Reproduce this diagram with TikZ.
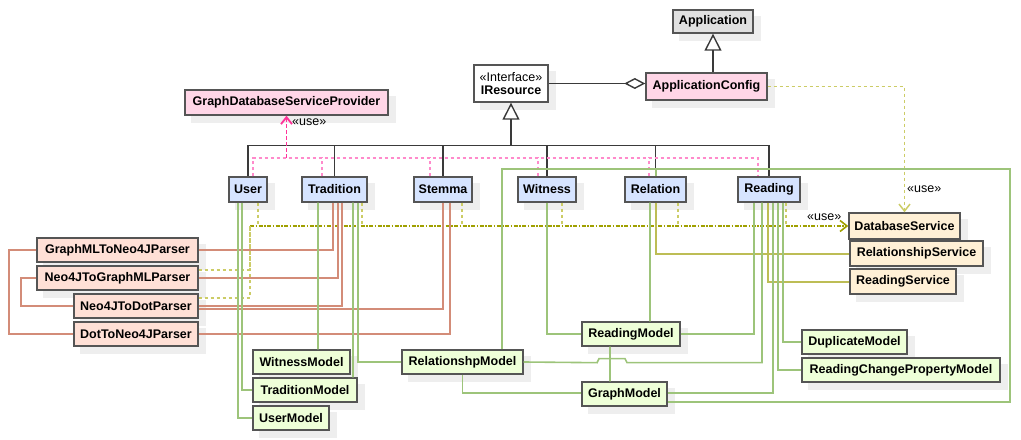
\documentclass[tikz,border=0pt]{standalone}
\usepackage{fontspec}
\setmainfont{Liberation Sans}
\usetikzlibrary{arrows.meta,backgrounds}
\definecolor{boxborder}{HTML}{555555}
\definecolor{cgray}{HTML}{E0E0E0}
\definecolor{cpink}{HTML}{FFD6E7}
\definecolor{cblue}{HTML}{D6E4FF}
\definecolor{ccream}{HTML}{FFF0D6}
\definecolor{cgreen}{HTML}{EEFFD8}
\definecolor{cpeach}{HTML}{FFE0D6}
\definecolor{lgreen}{HTML}{9DC47A}
\definecolor{lolive}{HTML}{BDBD55}
\definecolor{lred}{HTML}{D38C78}
\definecolor{lpink}{HTML}{FF8ACB}
\definecolor{dpink}{HTML}{FF3399}
\definecolor{useolive}{HTML}{A0A000}
\definecolor{usebranch}{HTML}{CCCC66}
\definecolor{genc}{HTML}{3A3A3A}
\definecolor{shadowc}{HTML}{EEEEEE}
\begin{document}
\begin{tikzpicture}[x=1bp,y=-1bp,
  cls/.style={draw=boxborder, line width=1.4bp, rectangle, inner sep=0bp,
    minimum height=24bp, font=\fontsize{12.5bp}{14bp}\selectfont\bfseries},
  res/.style={cls, fill=cblue, minimum height=25bp},
  svc/.style={cls, fill=ccream, minimum height=25bp},
  mdl/.style={cls, fill=cgreen},
  prs/.style={cls, fill=cpeach},
  lbl/.style={font=\fontsize{12.5bp}{14bp}\selectfont, inner sep=0bp},
  gen/.style={draw=genc, line width=1.4bp},
  gtip/.style={-{Triangle[length=17bp,width=17bp,fill=white]}},
  utip/.style={-{Straight Barb[length=7bp,width=11bp]}},
  pinkbr/.style={draw=lpink, line width=1.5bp, dash pattern=on 3bp off 3bp},
  pinkmain/.style={draw=dpink, line width=1.8bp, dash pattern=on 4bp off 2bp},
  usemain/.style={draw=useolive, line width=1.6bp, dash pattern=on 4bp off 1.5bp on 1.5bp off 1.5bp},
  usebr/.style={draw=usebranch, line width=1.5bp, dash pattern=on 3bp off 3bp},
  grn/.style={draw=lgreen, line width=1.6bp},
  olv/.style={draw=lolive, line width=1.7bp},
  redl/.style={draw=lred, line width=1.6bp}]
\useasboundingbox (0,0) rectangle (1021,440);

% ---------- nodes ----------
\node[cls, fill=cgray, minimum width=80bp, minimum height=23bp] (app) at (713,21.5) {Application};
\node[cls, fill=white, minimum width=74bp, minimum height=37bp, align=center] (ires) at (511,83.5) {{\mdseries «Interface»}\\[-1bp]IResource};
\node[cls, fill=cpink, minimum width=121bp, minimum height=27bp] (appcfg) at (706.5,86.5) {ApplicationConfig};
\node[cls, fill=cpink, minimum width=203bp, minimum height=25bp] (gdsp) at (286.5,102.5) {GraphDatabaseServiceProvider};

\node[res, minimum width=38bp] (user) at (248,189.5) {User};
\node[res, minimum width=65bp] (trad) at (334.5,189.5) {Tradition};
\node[res, minimum width=58bp] (stem) at (443,189.5) {Stemma};
\node[res, minimum width=58bp] (wit) at (547,189.5) {Witness};
\node[res, minimum width=61bp] (rel) at (655.5,189.5) {Relation};
\node[res, minimum width=62bp] (read) at (769,189.5) {Reading};

\node[svc, minimum width=111bp, minimum height=26bp] (dbs) at (904.5,226) {DatabaseService};
\node[svc, minimum width=133bp] (rss) at (916.5,253.5) {RelationshipService};
\node[svc, minimum width=106bp] (rds) at (903,281.5) {ReadingService};

\node[mdl, minimum width=105bp] (dup) at (854.5,342) {DuplicateModel};
\node[mdl, minimum width=198bp] (rcpm) at (901,370) {ReadingChangePropertyModel};
\node[mdl, minimum width=97bp] (wm) at (301.5,362) {WitnessModel};
\node[mdl, minimum width=104bp] (tm) at (305,390) {TraditionModel};
\node[mdl, minimum width=76bp] (um) at (291,418) {UserModel};
\node[mdl, minimum width=121bp] (rsm) at (462.5,362) {RelationshpModel};
\node[mdl, minimum width=98bp] (rm) at (631,334) {ReadingModel};
\node[mdl, minimum width=85bp] (gm) at (624.5,394) {GraphModel};

\node[prs, minimum width=161bp] (p1) at (117.5,250) {GraphMLToNeo4JParser};
\node[prs, minimum width=161bp] (p2) at (117.5,278) {Neo4JToGraphMLParser};
\node[prs, minimum width=124bp] (p3) at (136,306) {Neo4JToDotParser};
\node[prs, minimum width=124bp] (p4) at (136,334) {DotToNeo4JParser};

\node[lbl, anchor=west] (l1) at (292,122) {«use»};
\node[lbl, anchor=west] (l2) at (807,217) {«use»};
\node[lbl, anchor=west] (l3) at (907,189) {«use»};

\coordinate (pj) at (286.5,158);
\coordinate (gj) at (511,146);
\coordinate (uj) at (250,226);

% ---------- shadows ----------
\begin{scope}[on background layer]
\foreach \n in {app,ires,appcfg,gdsp,user,trad,stem,wit,rel,read,dbs,rss,rds,dup,rcpm,wm,tm,um,rsm,rm,gm,p1,p2,p3,p4}
  \fill[shadowc] ([xshift=7bp,yshift=-7bp]\n.south west) rectangle ([xshift=7bp,yshift=-7bp]\n.north east);
\end{scope}

% ---------- generalization / aggregation ----------
\draw[gen, gtip] (app.south |- appcfg.north) -- (app.south);
\draw[gen, gtip] (gj) -- (ires.south);
\draw[gen] (user.north) -- ++(0,-31) -| (read.north);
\draw[gen] (trad.north) -- ++(0,-31);
\draw[gen] (stem.north) -- ++(0,-31);
\draw[gen] (wit.north) -- ++(0,-31);
\draw[gen] (rel.north) -- ++(0,-31);
\draw[gen, -{Diamond[length=21bp,width=11bp,fill=white]}] (ires.east) -- (ires.east -| appcfg.west);

% ---------- use: GraphDatabaseServiceProvider ----------
\draw[pinkbr] ([xshift=5bp]user.north) |- (pj) -| ([xshift=-11bp]read.north);
\draw[pinkbr] ([xshift=-12.5bp]trad.north) -- ++(0,-19);
\draw[pinkbr] ([xshift=-13bp]stem.north) -- ++(0,-19);
\draw[pinkbr] ([xshift=-9bp]wit.north) -- ++(0,-19);
\draw[pinkbr] ([xshift=-6.5bp]rel.north) -- ++(0,-19);
\draw[pinkmain, utip] (pj) -- (gdsp.south);

% ---------- use: DatabaseService ----------
\draw[usemain, utip] (uj) -- (dbs.west);
\draw[usebr] ([yshift=8bp]p2.east) -| (uj);
\draw[usebr] ([yshift=8bp]p3.east) -| (uj);
\draw[usebr] ([xshift=10bp]user.south) -- ++(0,24);
\draw[usebr] ([xshift=27.5bp]trad.south) -- ++(0,24);
\draw[usebr] ([xshift=19bp]stem.south) -- ++(0,24);
\draw[usebr] ([xshift=15bp]wit.south) -- ++(0,24);
\draw[usebr] ([xshift=22.5bp]rel.south) -- ++(0,24);
\draw[usebr] ([xshift=17bp]read.south) -- ++(0,24);
\draw[usebr, utip] (appcfg.east) -| (dbs.north);

% ---------- parsers ----------
\draw[redl] ([xshift=-1.5bp]trad.south) |- (p1.east);
\draw[redl] ([xshift=3.5bp]trad.south) |- (p2.east);
\draw[redl] ([xshift=7.5bp]trad.south) |- (p3.east);
\draw[redl] (stem.south) |- ([yshift=-3bp]p3.east);
\draw[redl] ([xshift=7bp]stem.south) |- (p4.east);
\draw[redl] (p1.west) -- ++(-27,0) |- (p4.west);
\draw[redl] (p2.west) -- ++(-15,0) |- (p3.west);

% ---------- models ----------
\draw[grn] ([xshift=-10bp]user.south) |- (um.west);
\draw[grn] ([xshift=-6bp]user.south) |- (tm.west);
\draw[grn] ([xshift=-16.5bp]trad.south) -- ([xshift=16.5bp]wm.north);
\draw[grn] ([xshift=18.5bp]trad.south) -- ([xshift=48bp]tm.north);
\draw[grn] ([xshift=23.5bp]trad.south) |- (rsm.west);
\draw[grn] (wit.south) |- (rm.west);
\draw[grn] ([xshift=-5.5bp]rel.south) -- ([xshift=19bp]rm.north);
\draw[olv] ([xshift=0.5bp]rel.south) |- ([yshift=-0.5bp]rss.west);
\draw[grn] ([xshift=0.5bp]rel.north) -- ++(0,-7) -| ([xshift=39.5bp]rsm.north);
\draw[grn] ([xshift=0.5bp]rel.north) -- ++(0,-7) -- ++(354,0) |- ([yshift=-8bp]gm.east);
\draw[grn] ([xshift=-15bp]read.south) |- (rm.east);
\draw[grn] ([xshift=-7bp]read.south) -- ++(0,160) -- ++(-135,0) -- ++(-2,-4) -- ++(-26,0) -- ++(-2,4) -- (rsm.east);
\draw[olv] ([xshift=-1bp]read.south) |- ([yshift=-0.5bp]rds.west);
\draw[grn] ([xshift=4bp]read.south) |- ([yshift=1bp]gm.east);
\draw[grn] ([xshift=9bp]read.south) |- (rcpm.west);
\draw[grn] ([xshift=14bp]read.south) |- (dup.west);
\draw[grn] ([xshift=-21bp]rm.south) -- ([xshift=-14.5bp]gm.north);
\draw[grn] (rsm.south) |- ([yshift=1bp]gm.west);
\end{tikzpicture}
\end{document}
